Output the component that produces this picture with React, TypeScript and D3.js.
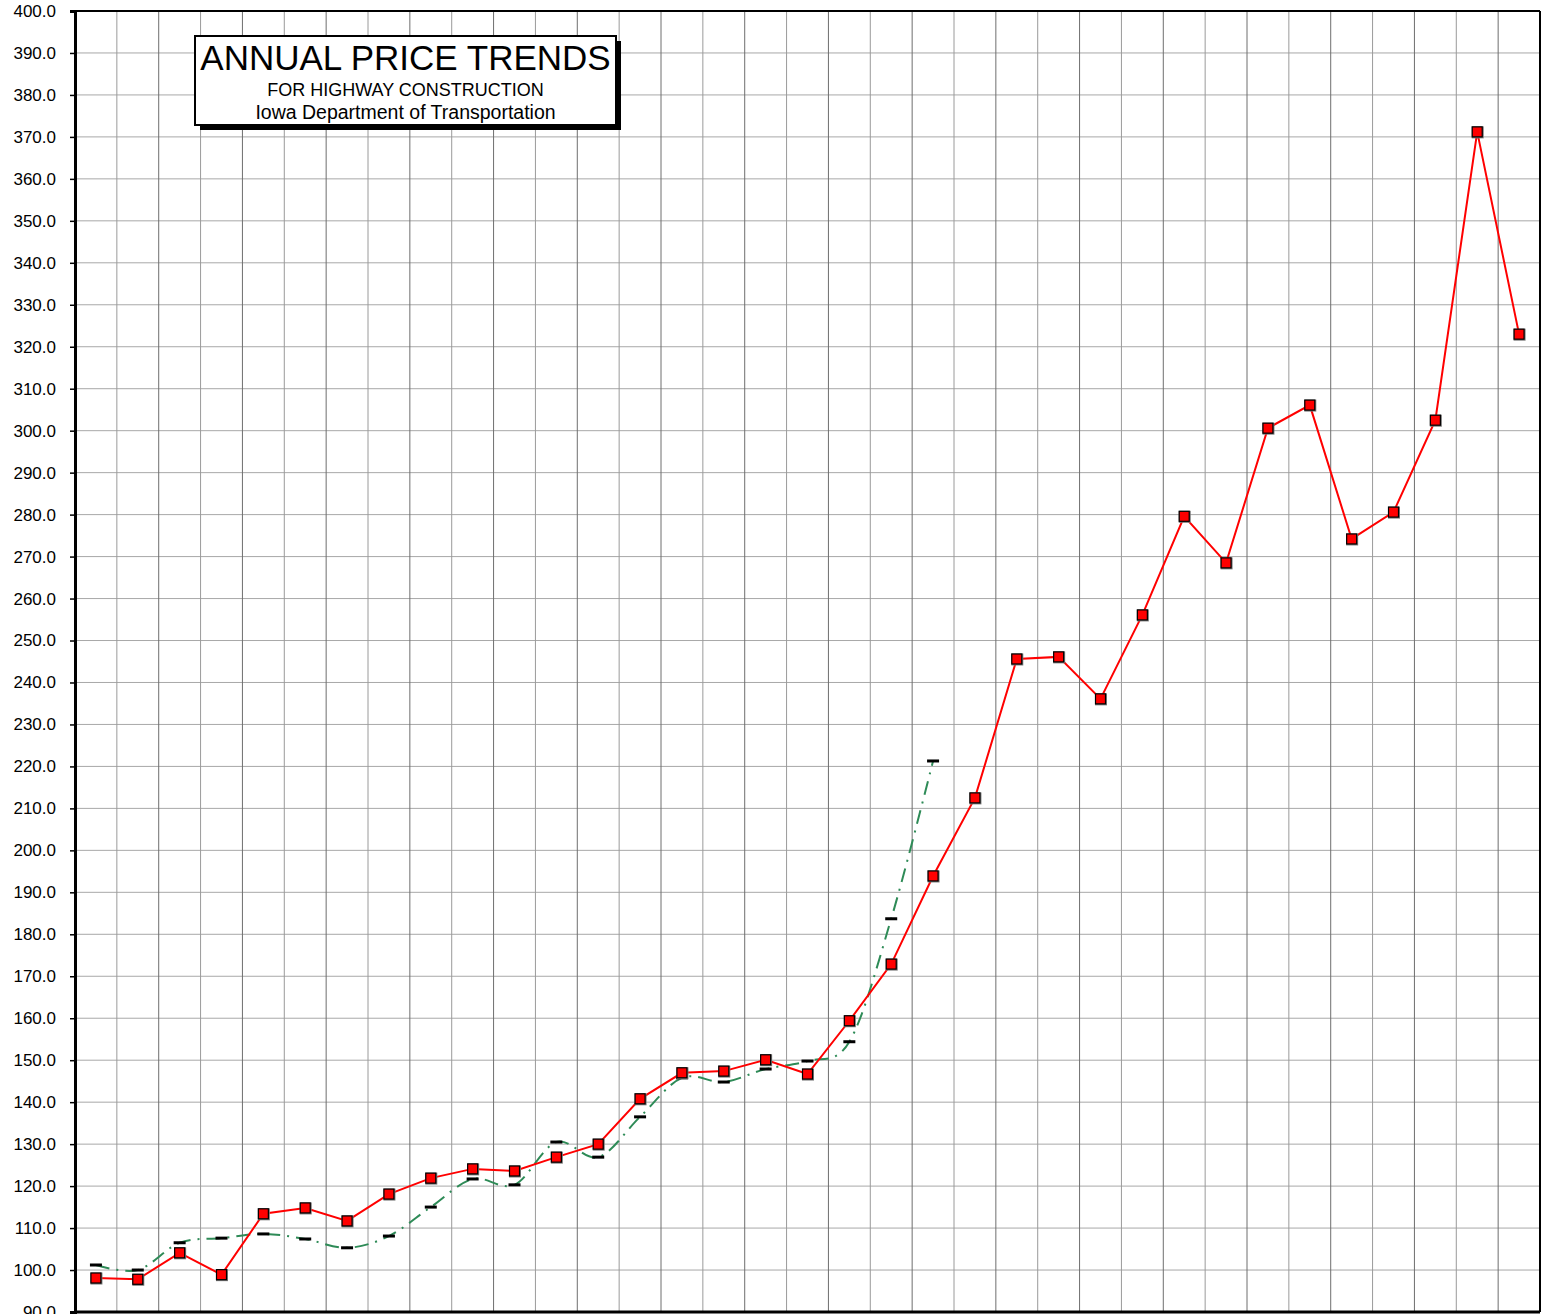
import React, { useRef, useEffect } from 'react';
import * as d3 from 'd3';

// year index along the x axis (labels are cut off in the picture)
const periods: number[] = d3.range(35);

// highway construction price index (red squares)
const priceIndex: number[] = [
  98.1, 97.8, 104.1, 98.9, 113.4, 114.8, 111.7, 118.1, 121.9, 124.1,
  123.6, 126.9, 130.0, 140.8, 147.0, 147.4, 150.1, 146.7, 159.4, 172.9,
  193.9, 212.5, 245.6, 246.1, 236.1, 256.1, 279.6, 268.5, 300.6, 306.1,
  274.2, 280.6, 302.5, 371.2, 323.0,
];

// second index (green dash-dot with dash markers), first 21 periods only
const otherIndex: number[] = [
  101.2, 100.0, 106.5, 107.6, 108.6, 107.4, 105.3, 108.1, 115.0, 121.7,
  120.3, 130.5, 126.9, 136.5, 145.8, 144.8, 147.9, 149.8, 154.4, 183.7,
  221.3,
];

const yTicks: number[] = d3.range(90, 401, 10);

const titleLines: string[] = [
  'ANNUAL PRICE TRENDS',
  'FOR HIGHWAY CONSTRUCTION',
  'Iowa Department of Transportation',
];

const W = 1543;
const H = 1314;

const PriceTrendsChart = () => {
  const svgRef = useRef<SVGSVGElement | null>(null);

  useEffect(() => {
    if (!svgRef.current) return;
    const svg = d3.select(svgRef.current);
    svg.selectAll('*').remove();

    const left = 75, right = 1540, top = 11, bottom = 1312;
    const font = 'Liberation Sans, Arial, sans-serif';

    const x = d3.scaleBand<number>().domain(periods).range([left, right]);
    const y = d3.scaleLinear().domain([90, 400]).range([bottom, top]);
    const cx = (i: number) => (x(i) as number) + x.bandwidth() / 2;

    svg.append('rect')
      .attr('width', W).attr('height', H).attr('fill', '#fff');

    // horizontal grid
    svg.append('g')
      .selectAll('line')
      .data(yTicks)
      .enter()
      .append('line')
      .attr('x1', left).attr('x2', right)
      .attr('y1', d => y(d)).attr('y2', d => y(d))
      .attr('stroke', '#a8a8a8')
      .attr('stroke-width', 1);

    // vertical grid at category boundaries
    svg.append('g')
      .selectAll('line')
      .data(periods.slice(1))
      .enter()
      .append('line')
      .attr('x1', d => x(d) as number).attr('x2', d => x(d) as number)
      .attr('y1', top).attr('y2', bottom)
      .attr('stroke', (d) => (d % 2 === 0 ? '#6e6e6e' : '#9a9a9a'))
      .attr('stroke-width', 1);

    // frame
    svg.append('line').attr('x1', left).attr('x2', right).attr('y1', top).attr('y2', top)
      .attr('stroke', '#000').attr('stroke-width', 2);
    svg.append('line').attr('x1', right).attr('x2', right).attr('y1', top).attr('y2', bottom)
      .attr('stroke', '#000').attr('stroke-width', 2);
    svg.append('line').attr('x1', left).attr('x2', right).attr('y1', bottom).attr('y2', bottom)
      .attr('stroke', '#000').attr('stroke-width', 3);

    // y axis
    const yAxis = d3.axisLeft(y)
      .tickValues(yTicks)
      .tickSize(5)
      .tickPadding(14)
      .tickFormat(d => d3.format('.1f')(d as number));
    const ag = svg.append('g')
      .attr('transform', `translate(${left},0)`)
      .call(yAxis);
    ag.select('.domain').attr('stroke', '#000').attr('stroke-width', 3);
    ag.selectAll('.tick line').attr('stroke', '#000').attr('stroke-width', 1.5);
    ag.selectAll('.tick text')
      .attr('fill', '#000')
      .style('font-family', font)
      .style('font-size', '17px');

    // green dash-dot series (smoothed)
    const greenLine = d3.line<number>()
      .x((_, i) => cx(i))
      .y(d => y(d))
      .curve(d3.curveCardinal.tension(0));
    svg.append('path')
      .datum(otherIndex)
      .attr('d', greenLine)
      .attr('fill', 'none')
      .attr('stroke', '#2e8b57')
      .attr('stroke-width', 2)
      .attr('stroke-dasharray', '14,7,2,7');

    svg.append('g')
      .selectAll('rect')
      .data(otherIndex)
      .enter()
      .append('rect')
      .attr('x', (_, i) => cx(i) - 6)
      .attr('y', d => y(d) - 1.5)
      .attr('width', 12)
      .attr('height', 3)
      .attr('fill', '#000');

    // red price series
    const redLine = d3.line<number>()
      .x((_, i) => cx(i))
      .y(d => y(d));
    svg.append('path')
      .datum(priceIndex)
      .attr('d', redLine)
      .attr('fill', 'none')
      .attr('stroke', '#ff0000')
      .attr('stroke-width', 2);

    const marks = svg.append('g');
    marks.selectAll('.shadow')
      .data(priceIndex)
      .enter()
      .append('rect')
      .attr('class', 'shadow')
      .attr('x', (_, i) => cx(i) - 5.5)
      .attr('y', d => y(d) - 5.5)
      .attr('width', 12)
      .attr('height', 12)
      .attr('fill', '#777');
    marks.selectAll('.sq')
      .data(priceIndex)
      .enter()
      .append('rect')
      .attr('class', 'sq')
      .attr('x', (_, i) => cx(i) - 5)
      .attr('y', d => y(d) - 5)
      .attr('width', 10)
      .attr('height', 10)
      .attr('fill', '#ff0000')
      .attr('stroke', '#000')
      .attr('stroke-width', 1.2);

    // title box
    const bx = 195, by = 36, bw = 421, bh = 89;
    const tb = svg.append('g');
    tb.append('rect')
      .attr('x', bx + 5).attr('y', by + 5).attr('width', bw).attr('height', bh)
      .attr('fill', '#000');
    tb.append('rect')
      .attr('x', bx).attr('y', by).attr('width', bw).attr('height', bh)
      .attr('fill', '#fff').attr('stroke', '#000').attr('stroke-width', 2);
    tb.selectAll('text')
      .data(titleLines)
      .enter()
      .append('text')
      .attr('x', bx + bw / 2)
      .attr('y', (_, i) => [by + 34, by + 60, by + 83][i])
      .attr('text-anchor', 'middle')
      .attr('fill', '#000')
      .style('font-family', font)
      .style('font-size', (_, i) => ['35px', '18px', '19.5px'][i])
      .text(d => d);
  }, []);

  return (
    <svg
      ref={svgRef}
      width={W}
      height={H}
      style={{ position: 'absolute', left: 0, top: 0, display: 'block' }}
    />
  );
};

export default function App() {
  return <PriceTrendsChart />;
}
